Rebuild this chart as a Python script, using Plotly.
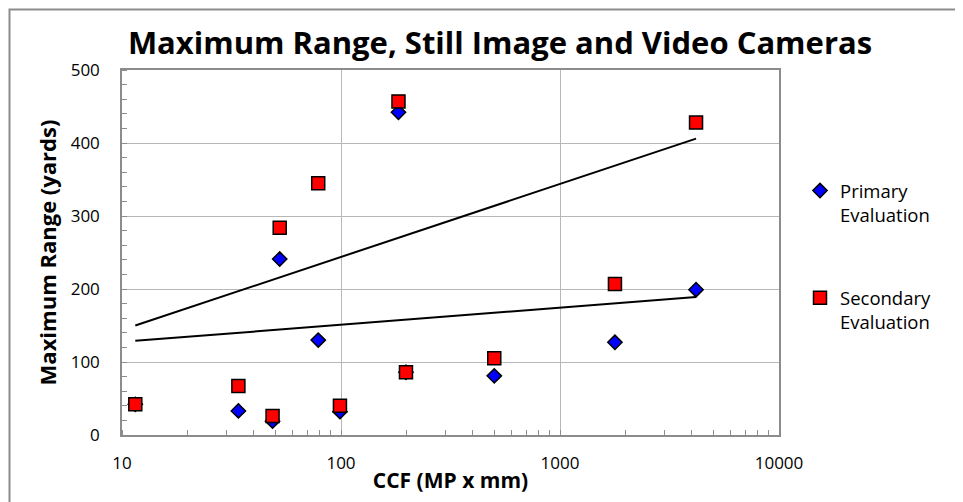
import plotly.graph_objects as go

# Data
primary_x = [11.5, 34, 48.7, 52.5, 78.7, 98.9, 183, 198, 501, 1782, 4180]
primary_y = [42, 33, 19, 241, 130, 32, 442, 86, 81, 127, 199]
secondary_x = [11.5, 34, 48.7, 52.5, 78.7, 98.9, 183, 198, 501, 1782, 4180]
secondary_y = [42, 67, 26, 284, 345, 40, 457, 86, 105, 207, 428]

trend_x = [11.5, 4180]
trend_upper = [150, 406]
trend_lower = [129, 189]

y_ticks = [0, 100, 200, 300, 400, 500]
x_ticks = [10, 100, 1000, 10000]
x_ticklabels = ["10", "100", "1000", "10000"]

FONT = "Open Sans"
GRID = "#b7b7b7"
AXIS = "#8c8c8c"

# page has an 8px body margin; figure is sized to fill the rest of the window
W, H = 955, 494
L, R, T, B = 114, 184, 62, 67
PW, PH = W - L - R, H - T - B

fig = go.Figure()

fig.add_trace(go.Scatter(
    x=trend_x, y=trend_upper, mode="lines",
    line=dict(color="black", width=2), showlegend=False, hoverinfo="skip"))
fig.add_trace(go.Scatter(
    x=trend_x, y=trend_lower, mode="lines",
    line=dict(color="black", width=2), showlegend=False, hoverinfo="skip"))

fig.add_trace(go.Scatter(
    x=primary_x, y=primary_y, mode="markers", name="Primary<br>Evaluation",
    legendgroup="p",
    marker=dict(symbol="diamond", size=11, color="#0000ff",
                line=dict(color="black", width=1.5))))
fig.add_trace(go.Scatter(
    x=secondary_x, y=secondary_y, mode="markers", name="Secondary<br>Evaluation",
    legendgroup="s",
    marker=dict(symbol="square", size=13, color="#ff0000",
                line=dict(color="black", width=1.5))))

fig.update_layout(
    width=W, height=H,
    margin=dict(l=L, r=R, t=T, b=B),
    paper_bgcolor="white", plot_bgcolor="white",
    font=dict(family=FONT, color="black", size=16),
    title=dict(text="<b>Maximum Range, Still Image and Video Cameras</b>",
               x=492 / W, xanchor="center", y=1 - 35 / H, yanchor="middle",
               font=dict(family=FONT, size=31, color="black")),
    showlegend=True,
    legend=dict(x=(800 - 122) / PW, xanchor="left", y=1 - (172 - 70) / PH, yanchor="top",
                font=dict(family=FONT, size=18.5), valign="top",
                tracegroupgap=56, bgcolor="rgba(0,0,0,0)"),
    xaxis=dict(
        type="log", range=[1, 4],
        tickvals=x_ticks, ticktext=x_ticklabels,
        showgrid=True, gridcolor=GRID, gridwidth=1,
        showline=True, linecolor=AXIS, linewidth=1.5, mirror=True,
        ticks="", ticklabelstandoff=12,
        tickfont=dict(size=17, family=FONT),
        minor=dict(ticks="inside", ticklen=5, tickcolor=AXIS, dtick="D1", showgrid=False),
        title=dict(text="<b>CCF (MP x mm)</b>", font=dict(size=21, family=FONT), standoff=0),
        zeroline=False,
    ),
    yaxis=dict(
        range=[0, 500], tickvals=y_ticks,
        showgrid=True, gridcolor=GRID, gridwidth=1,
        showline=True, linecolor=AXIS, linewidth=1.5, mirror=True,
        ticks="", ticklabelstandoff=17,
        tickfont=dict(size=17, family=FONT),
        minor=dict(ticks="inside", ticklen=5, tickcolor=AXIS, dtick=20, showgrid=False),
        title=dict(text="<b>Maximum Range (yards)</b>", font=dict(size=22, family=FONT), standoff=8),
        zeroline=False,
    ),
    shapes=[dict(type="rect", xref="paper", yref="paper",
                 x0=(9.5 - 122) / PW, x1=1.6, y0=-0.5, y1=1 + (70 - 9.5) / PH,
                 line=dict(color="#8c8c8c", width=2), fillcolor="rgba(0,0,0,0)",
                 layer="below")],
)

fig.write_html("out.html")
